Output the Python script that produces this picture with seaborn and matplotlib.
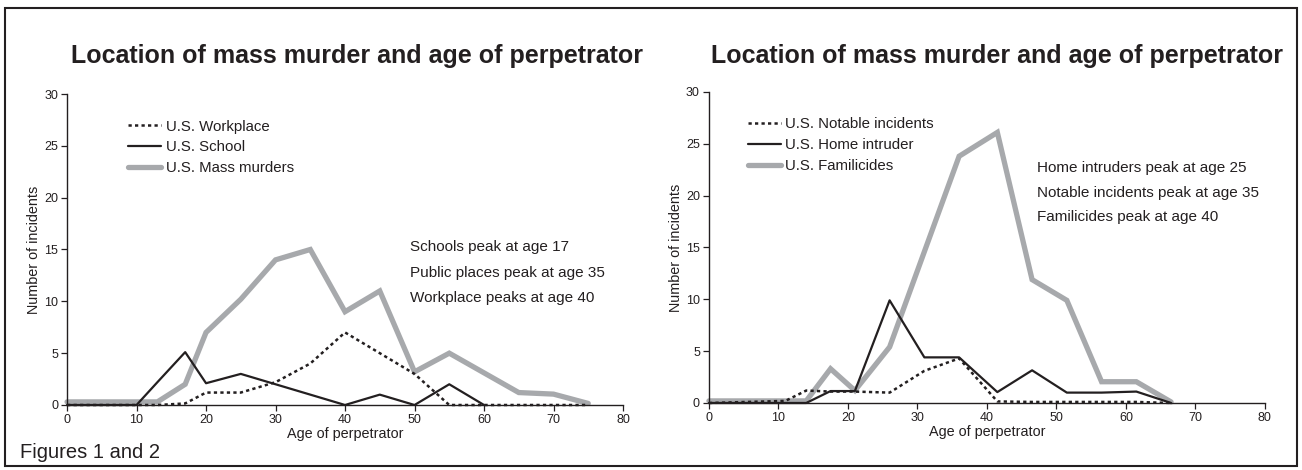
import matplotlib
matplotlib.use('Agg')
import matplotlib.pyplot as plt
import seaborn as sns
import pandas as pd
from matplotlib.patches import Rectangle

# data
left_age = [0, 10, 13, 17, 20, 25, 30, 35, 40, 45, 50, 55, 60, 65, 70, 75]
workplace = [0, 0, 0, 0.15, 1.2, 1.2, 2.2, 4, 7, 5, 3, 0, 0, 0, 0, 0]
school_age = [0, 10, 13, 17, 20, 25, 30, 35, 40, 45, 50, 55, 60]
school = [0, 0, 2.2, 5.1, 2.1, 3, 2, 1, 0, 1, 0, 2, 0]
mass_murders = [0.3, 0.3, 0.3, 2, 7, 10.2, 14, 15, 9, 11, 3.2, 5, 3.1, 1.2, 1.05, 0.15]

right_age = [0, 11, 14, 17.5, 21, 26, 31, 36, 41.5, 46.5, 51.5, 56.5, 61.5, 66.5]
notable = [0, 0.2, 1.2, 1.1, 1.1, 1.0, 3.1, 4.3, 0.15, 0.1, 0.1, 0.1, 0.1, 0]
home_intruder = [0, 0, 0, 1.15, 1.15, 9.9, 4.4, 4.4, 1.05, 3.15, 1.0, 1.0, 1.1, 0]
familicides = [0.2, 0.2, 0.2, 3.3, 1.2, 5.4, 14.6, 23.8, 26.1, 11.9, 9.9, 2.05, 2.05, 0.1]

title = 'Location of mass murder and age of perpetrator'
left_notes = ['Schools peak at age 17', 'Public places peak at age 35', 'Workplace peaks at age 40']
right_notes = ['Home intruders peak at age 25', 'Notable incidents peak at age 35', 'Familicides peak at age 40']

sns.set_style("ticks")
plt.rcParams['font.family'] = ['Liberation Sans', 'DejaVu Sans']

INK = '#231f20'
GRAY = '#a7a9ac'

fig = plt.figure(figsize=(13.02, 4.70), dpi=100)
ax1 = fig.add_axes([0.0515, 0.1383, 0.427, 0.6617])
ax2 = fig.add_axes([0.5445, 0.1426, 0.427, 0.6617])


def draw(ax, age_a, a, lab_a, age_b, b, lab_b, age_c, c, lab_c):
    dfc = pd.DataFrame({'age': age_c, 'n': c})
    dfb = pd.DataFrame({'age': age_b, 'n': b})
    dfa = pd.DataFrame({'age': age_a, 'n': a})
    sns.lineplot(data=dfc, x='age', y='n', ax=ax, color=GRAY, linewidth=3.8,
                 label=lab_c, solid_joinstyle='miter')
    sns.lineplot(data=dfb, x='age', y='n', ax=ax, color=INK, linewidth=1.6,
                 label=lab_b)
    sns.lineplot(data=dfa, x='age', y='n', ax=ax, color=INK, linewidth=1.8,
                 linestyle=(0, (1.3, 1.3)), label=lab_a)
    ax.set_xlim(0, 80)
    ax.set_ylim(0, 30)
    ax.set_xticks(range(0, 81, 10))
    ax.set_yticks(range(0, 31, 5))
    ax.tick_params(labelsize=9, colors=INK, length=4.5, width=0.9, pad=2)
    for s in ['top', 'right']:
        ax.spines[s].set_visible(False)
    for s in ['left', 'bottom']:
        ax.spines[s].set_color(INK)
        ax.spines[s].set_linewidth(1.0)
    ax.set_xlabel('Age of perpetrator', fontsize=10.4, color=INK, labelpad=1)
    ax.set_ylabel('Number of incidents', fontsize=10.4, color=INK, labelpad=2)
    for ln in ax.lines:
        ln.set_clip_on(False)


draw(ax1, left_age, workplace, 'U.S. Workplace', school_age, school, 'U.S. School',
     left_age, mass_murders, 'U.S. Mass murders')
draw(ax2, right_age, notable, 'U.S. Notable incidents', right_age, home_intruder,
     'U.S. Home intruder', right_age, familicides, 'U.S. Familicides')

for ax, xa, ya in [(ax1, 0.11, 0.918), (ax2, 0.07, 0.918)]:
    h, l = ax.get_legend_handles_labels()
    ax.legend(h[::-1], l[::-1], loc='upper left', bbox_to_anchor=(xa, ya),
              frameon=False, borderpad=0, borderaxespad=0, fontsize=10.8,
              handlelength=2.2, handletextpad=0.3, labelspacing=0.45,
              labelcolor=INK)

for i, t in enumerate(left_notes):
    ax1.text(49.35, 15.2 - i * 2.45, t, fontsize=11, color=INK, va='center', ha='left')
for i, t in enumerate(right_notes):
    ax2.text(47.2, 22.7 - i * 2.4, t, fontsize=11, color=INK, va='center', ha='left')

fig.text(357 / 1302, 1 - 63 / 470, title, fontsize=18, fontweight='bold',
         color=INK, ha='center', va='baseline')
fig.text(997 / 1302, 1 - 63 / 470, title, fontsize=18, fontweight='bold',
         color=INK, ha='center', va='baseline')
fig.text(20 / 1302, 1 - 452 / 470, 'Figures 1 and 2', fontsize=14.5, color=INK,
         ha='left', va='center')

# outer frame
fig.patches.append(Rectangle((5 / 1302, 4 / 470), 1292 / 1302, 458 / 470,
                             transform=fig.transFigure, fill=False,
                             edgecolor=INK, linewidth=1.5))

fig.savefig('out.png', dpi=100)
